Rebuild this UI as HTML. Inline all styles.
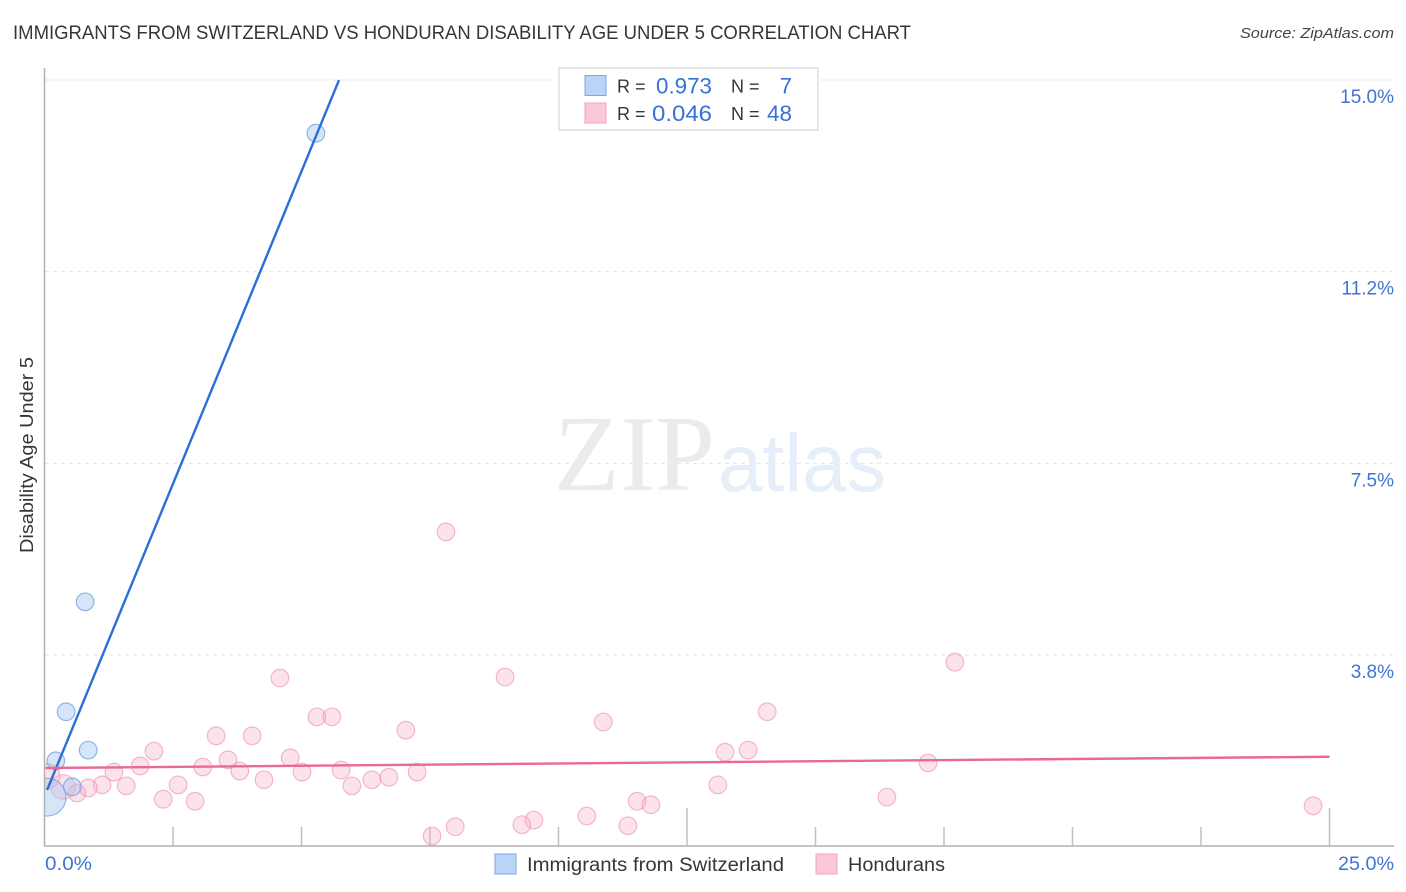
<!DOCTYPE html>
<html lang="en">
<head>
<meta charset="utf-8">
<title>Immigrants from Switzerland vs Honduran Disability Age Under 5 Correlation Chart</title>
<style>
html,body{margin:0;padding:0;background:#fff;width:1406px;height:892px;overflow:hidden}
svg{display:block;font-family:"Liberation Sans",sans-serif}
</style>
</head>
<body>
<svg id="chart" xmlns="http://www.w3.org/2000/svg" width="1406" height="892" viewBox="0 0 1406 892">
  <defs><clipPath id="plot-clip"><rect x="45" y="60" width="1340" height="786"/></clipPath></defs>
  <text x="13" y="39" font-size="19" fill="#33373d" textLength="898" lengthAdjust="spacingAndGlyphs">IMMIGRANTS FROM SWITZERLAND VS HONDURAN DISABILITY AGE UNDER 5 CORRELATION CHART</text>
  <text x="1394" y="38" font-size="15" font-style="italic" fill="#444" text-anchor="end" textLength="154" lengthAdjust="spacingAndGlyphs">Source: ZipAtlas.com</text>
  <g id="grid"></g>
  <g>
    <text x="554" y="490" font-family="'Liberation Serif',serif" font-size="108" fill="#ebebeb" textLength="161" lengthAdjust="spacingAndGlyphs">ZIP</text>
    <text x="718" y="491" font-size="82" fill="#e6eefa" textLength="168" lengthAdjust="spacingAndGlyphs">atlas</text>
  </g>
  <g id="axes">
    <line x1="44.5" y1="68" x2="44.5" y2="846" stroke="#b0b0b0" stroke-width="1.5"/>
    <line x1="44" y1="846" x2="1394" y2="846" stroke="#b0b0b0" stroke-width="1.5"/>
  </g>
  <g id="points" clip-path="url(#plot-clip)"></g>
  <g id="trends"></g>
  <g id="ylabels"></g>
  <text transform="translate(33,553) rotate(-90)" font-size="18" fill="#33373d" textLength="196" lengthAdjust="spacingAndGlyphs">Disability Age Under 5</text>
  <text x="45" y="870" font-size="19" fill="#3f74d2" textLength="47" lengthAdjust="spacingAndGlyphs">0.0%</text>
  <text x="1394" y="870" font-size="19" fill="#3f74d2" text-anchor="end" textLength="56" lengthAdjust="spacingAndGlyphs">25.0%</text>

  <g>
    <rect x="559" y="68" width="259" height="62" fill="#fff" stroke="#ddd" stroke-width="1.5"/>
    <rect x="585" y="75.500" width="21" height="20" fill="#b9d4f6" stroke="#7fa5e2" stroke-width="1"/>
    <rect x="585" y="103" width="21" height="20" fill="#fbc8da" stroke="#f0a3bc" stroke-width="1"/>
    <text x="617" y="92.500" font-size="18" fill="#33373d">R =</text>
    <text x="712" y="93.500" font-size="22" fill="#3572d6" text-anchor="end" textLength="56" lengthAdjust="spacingAndGlyphs">0.973</text>
    <text x="731" y="92.500" font-size="18" fill="#33373d">N =</text>
    <text x="792" y="93.500" font-size="22" fill="#3572d6" text-anchor="end">7</text>
    <text x="617" y="120" font-size="18" fill="#33373d">R =</text>
    <text x="712" y="121" font-size="22" fill="#3572d6" text-anchor="end" textLength="60" lengthAdjust="spacingAndGlyphs">0.046</text>
    <text x="731" y="120" font-size="18" fill="#33373d">N =</text>
    <text x="792" y="121" font-size="22" fill="#3572d6" text-anchor="end" textLength="25" lengthAdjust="spacingAndGlyphs">48</text>
  </g>

  <g>
    <rect x="495" y="854" width="21" height="20" fill="#b9d4f6" stroke="#7fa5e2" stroke-width="1"/>
    <text x="527" y="871" font-size="19" fill="#33373d" textLength="257" lengthAdjust="spacingAndGlyphs">Immigrants from Switzerland</text>
    <rect x="816" y="854" width="21" height="20" fill="#fbc8da" stroke="#f0a3bc" stroke-width="1"/>
    <text x="848" y="871" font-size="19" fill="#33373d" textLength="97" lengthAdjust="spacingAndGlyphs">Hondurans</text>
  </g>
</svg>
<script>
// Tick values and labels
const yTicks = [15, 11.25, 7.5, 3.75];
const yTickLabels = ["15.0%", "11.2%", "7.5%", "3.8%"];
const xTicks = [2.5, 5, 7.5, 10, 12.5, 15, 17.5, 20, 22.5, 25];
const xMajorTicks = [12.5, 25];

// Immigrants from Switzerland series
const swissX = [5.28, 0.79, 0.42, 0.85, 0.22, 0.54, 0.05];
const swissY = [13.96, 4.79, 2.64, 1.89, 1.68, 1.17, 0.97];
const swissSize = [1, 1, 1, 1, 1, 1, 2.15];

// Hondurans series
const honX = [7.81, 17.71, 4.58, 8.96, 14.06, 5.30, 5.59, 10.87, 7.03, 3.34, 4.04, 2.13, 13.24, 13.69, 4.78, 3.57, 17.19, 1.86, 3.08, 1.35, 3.80, 5.01, 5.77, 7.25, 4.27, 6.37, 6.70, 2.60, 1.59, 1.12, 5.98, 13.10, 0.85, 0.36, 0.63, 16.39, 11.53, 11.80, 2.31, 2.93, 24.68, 10.55, 9.52, 9.29, 11.35, 7.99, 7.54, 0.06];
const honY = [6.16, 3.61, 3.30, 3.32, 2.64, 2.54, 2.54, 2.44, 2.28, 2.17, 2.17, 1.87, 1.85, 1.89, 1.74, 1.70, 1.64, 1.58, 1.56, 1.46, 1.48, 1.46, 1.50, 1.46, 1.31, 1.31, 1.36, 1.21, 1.19, 1.21, 1.19, 1.21, 1.15, 1.17, 1.05, 0.97, 0.89, 0.82, 0.93, 0.89, 0.80, 0.60, 0.52, 0.43, 0.41, 0.39, 0.21, 1.38];
const honSize = [1, 1, 1, 1, 1, 1, 1, 1, 1, 1, 1, 1, 1, 1, 1, 1, 1, 1, 1, 1, 1, 1, 1, 1, 1, 1, 1, 1, 1, 1, 1, 1, 1, 1.4, 1, 1, 1, 1, 1, 1, 1, 1, 1, 1, 1, 1, 1, 1.4];

// Trend line endpoints in data units
const swissTrendX = [0.05, 5.73];
const swissTrendY = [1.11, 15];
const honTrendX = [0.02, 25];
const honTrendY = [1.54, 1.76];

const NS = "http://www.w3.org/2000/svg";
function xScale(v) { return 44.5 + v * 51.4; }
function yScale(v) { return 846.7 - v * 51.11; }
function make(tag, attrs, parent) {
  const el = document.createElementNS(NS, tag);
  for (const k in attrs) el.setAttribute(k, attrs[k]);
  parent.appendChild(el);
  return el;
}

const grid = document.getElementById("grid");
const ylabels = document.getElementById("ylabels");
yTicks.forEach(function (t, i) {
  const line = make("line", { x1: 45, x2: 1394, y1: yScale(t), y2: yScale(t), stroke: "#e2e2e2", "stroke-width": 1, "stroke-dasharray": "4 4" }, grid);
  
  
  const label = make("text", { x: 1394, y: yScale(t) + 23, "font-size": 19, fill: "#3f74d2", "text-anchor": "end" }, ylabels);
  label.textContent = yTickLabels[i];
  
  
});

const axes = document.getElementById("axes");
xTicks.forEach(function (t) {
  const top = xMajorTicks.indexOf(t) >= 0 ? 808 : 827;
  const tick = make("line", { x1: xScale(t), x2: xScale(t), y1: top, y2: 846, stroke: "#c0c0c0", "stroke-width": 1.5 }, axes);
  
  
});

const points = document.getElementById("points");
honX.forEach(function (v, i) {
  const c = make("circle", { cx: xScale(v), cy: yScale(honY[i]), r: 8.8 * honSize[i], fill: "#f7a8c2", "fill-opacity": 0.32, stroke: "#ee8fae", "stroke-opacity": 0.62, "stroke-width": 1.2 }, points);
  
  
});
swissX.forEach(function (v, i) {
  const c = make("circle", { cx: xScale(v), cy: yScale(swissY[i]), r: 8.8 * swissSize[i], fill: "#a4c8f2", "fill-opacity": 0.45, stroke: "#6c9bdc", "stroke-opacity": 0.72, "stroke-width": 1.2 }, points);
  
  
});

const trends = document.getElementById("trends");
const swissLine = make("line", { x1: xScale(swissTrendX[0]), y1: yScale(swissTrendY[0]), x2: xScale(swissTrendX[1]), y2: yScale(swissTrendY[1]), stroke: "#2a6fd8", "stroke-width": 2.4 }, trends);


const honLine = make("line", { x1: xScale(honTrendX[0]), y1: yScale(honTrendY[0]), x2: xScale(honTrendX[1]), y2: yScale(honTrendY[1]), stroke: "#e9689a", "stroke-width": 2.4 }, trends);


</script>
</body>
</html>
